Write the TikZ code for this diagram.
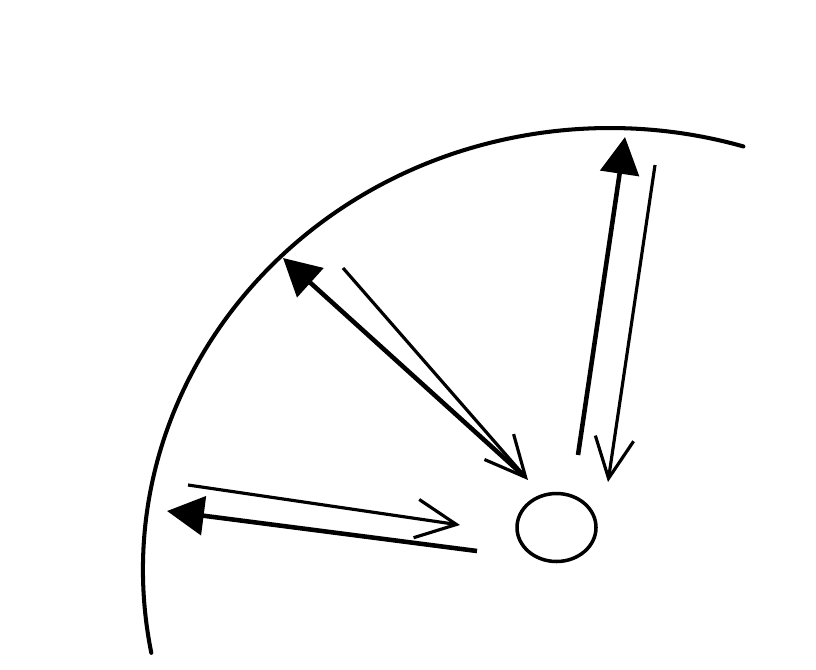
\documentclass[tikz,border=0pt]{standalone}
\usetikzlibrary{arrows.meta,shapes.geometric}
\begin{document}
\begin{tikzpicture}[
  wall/.style={line width=2.3pt, line cap=round},
  emit/.style={line width=2.6pt, -{Triangle[length=21pt,width=22pt]}},
  echo/.style={line width=1.8pt, -{Straight Barb[length=23pt,width=22pt,line width=1.8pt]}}
]
  \useasboundingbox (0,0) rectangle (16.32,13.38);
  % parede
  \coordinate (C) at (12.20,1.98);
  \draw[wall] (C) ++(190.8:9.34 and 8.84)
    arc[start angle=190.8, end angle=73.4, x radius=9.34, y radius=8.84];
  % fonte
  \node[draw, line width=2pt, ellipse, inner sep=0pt,
        minimum width=1.58cm, minimum height=1.36cm] (src) at (11.13,2.83) {};
  % raio esquerdo
  \coordinate (L0) at (9.54,2.36);
  \coordinate (L1) at (3.34,3.16);
  \coordinate (L2) at (3.76,3.68);
  \coordinate (L3) at (9.20,2.88);
  \draw[emit] (L0) -- (L1);
  \draw[echo] (L2) -- (L3);
  % raio do meio
  \coordinate (M0) at (10.48,3.86);
  \coordinate (M1) at (5.66,8.22);
  \coordinate (M2) at (6.86,8.02);
  \coordinate (M3) at (10.56,3.78);
  \draw[emit] (M0) -- (M1);
  \draw[echo] (M2) -- (M3);
  % raio direito
  \coordinate (R0) at (11.56,4.28);
  \coordinate (R1) at (12.50,10.64);
  \coordinate (R2) at (13.10,10.08);
  \coordinate (R3) at (12.16,3.74);
  \draw[emit] (R0) -- (R1);
  \draw[echo] (R2) -- (R3);
\end{tikzpicture}
\end{document}
